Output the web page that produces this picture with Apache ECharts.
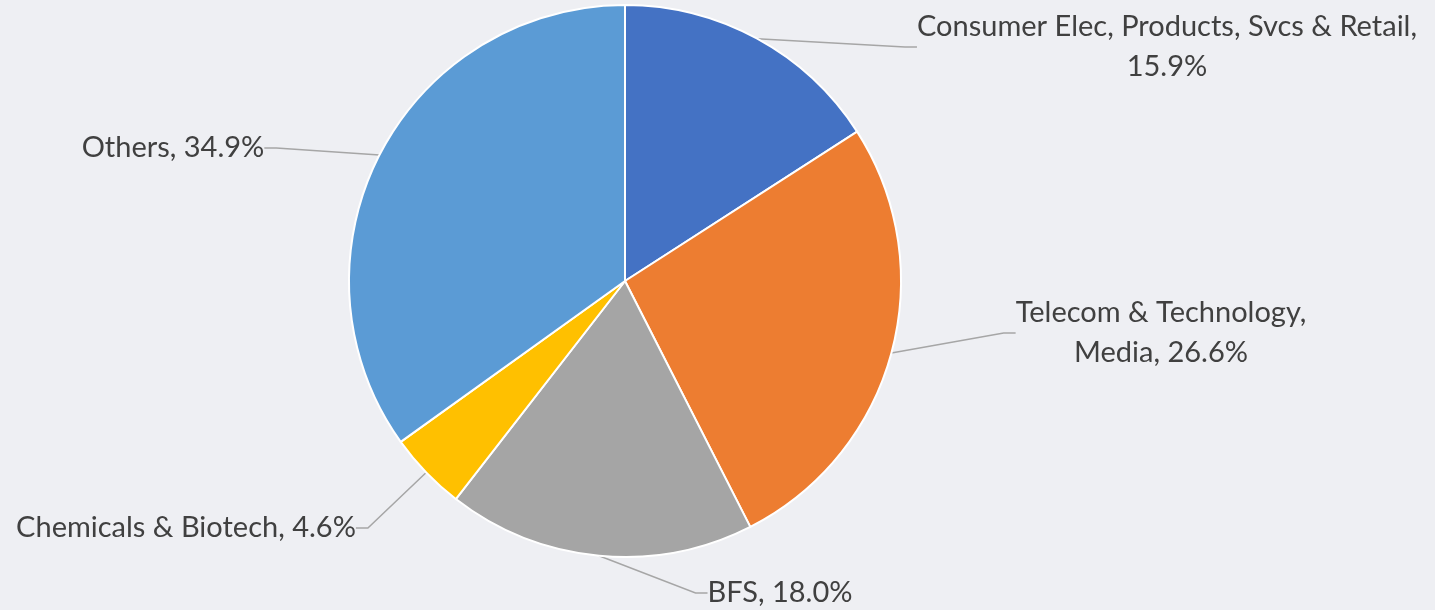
<!DOCTYPE html>
<html>
<head>
<meta charset="utf-8">
<script src="https://cdn.jsdelivr.net/npm/echarts@6/dist/echarts.min.js"></script>
<style>
  html, body { margin: 0; padding: 0; background: #EEEFF3; }
  #chart { width: 1435px; height: 610px; }
</style>
</head>
<body>
<div id="chart"></div>
<script>
  // slices, clockwise from 12 o'clock
  const names = ['Consumer Elec, Products, Svcs & Retail,', 'Telecom & Technology,\nMedia', 'BFS', 'Chemicals & Biotech', 'Others']
  const shares = [15.9, 26.6, 18.0, 4.6, 34.9]
  const colors = ['#4472C4', '#ED7D31', '#A5A5A5', '#FFC000', '#5B9BD5']

  // where each label sits (centre of text block)
  const labelPos = [[1167, 47], [1161, 333], [780, 593], [186, 528], [173, 148]]

  const chart = echarts.init(document.getElementById('chart'))
  chart.setOption({
    backgroundColor: '#EEEFF3',
    animation: false,
    series: [{
      type: 'pie',
      center: [625, 281],
      radius: 276,
      startAngle: 90,
      clockwise: true,
      avoidLabelOverlap: false,
      data: names.map((n, i) => ({
        name: n,
        value: shares[i],
        itemStyle: { color: colors[i] }
      })),
      itemStyle: {
        borderColor: '#ffffff',
        borderWidth: 2
      },
      label: {
        show: true,
        formatter: p => {
          const v = p.value.toFixed(1) + '%'
          // first slice breaks the line before the value
          return p.dataIndex === 0 ? p.name + '\n' + v : p.name + ', ' + v
        },
        fontFamily: 'Lato',
        fontSize: 29,
        lineHeight: 40,
        color: '#404040',
        align: 'center'
      },
      labelLine: {
        show: true,
        length: 20,
        length2: 12,
        smooth: false,
        lineStyle: { color: '#A6A6A6', width: 1.5 }
      },
      labelLayout: p => ({
        x: labelPos[p.dataIndex][0],
        y: labelPos[p.dataIndex][1],
        align: 'center',
        verticalAlign: 'middle'
      }),
      emphasis: { disabled: true }
    }]
  })
</script>
</body>
</html>
